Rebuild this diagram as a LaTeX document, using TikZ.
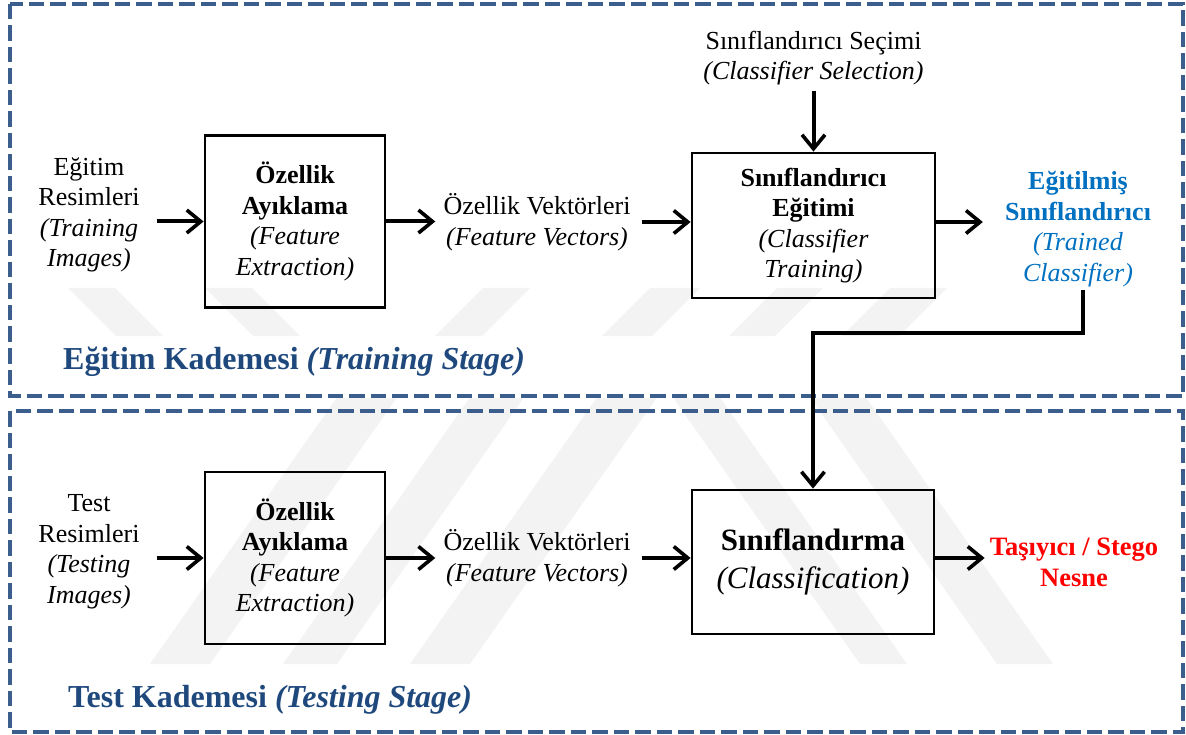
\documentclass[tikz,border=0pt]{standalone}
\usepackage{fontspec}
\setmainfont{Liberation Serif}
\usetikzlibrary{arrows.meta}

\definecolor{frameblue}{RGB}{59,94,140}
\definecolor{stageblue}{RGB}{31,73,125}
\definecolor{trainedblue}{RGB}{0,112,192}
\definecolor{markgray}{RGB}{243,243,243}

\begin{document}
\begin{tikzpicture}[x=1pt,y=-1pt,
  stagebox/.style={draw=frameblue, line width=4.5pt, dash pattern=on 15.5pt off 6pt},
  procbox/.style={draw=black, line width=2.8pt, align=center, inner sep=0pt,
    font=\fontsize{26}{30.5}\selectfont},
  body/.style={align=center, inner sep=0pt, font=\fontsize{26}{30.5}\selectfont},
  stagelabel/.style={anchor=west, inner sep=0pt, text=stageblue,
    font=\fontsize{32}{36}\selectfont\bfseries},
  flow/.style={draw=black, line width=4pt,
    -{Straight Barb[length=14pt,width=23pt,line width=3.6pt]}}
]
\useasboundingbox (0,0) rectangle (1186,735);

% faint emblem in the background
\begin{scope}
  \clip (60,288) rectangle (1000,336);
  \foreach \a/\w in {68/47,205/47}
    \fill[markgray] (\a,288) -- ++(\w,0) -- ++(48,48) -- ++(-\w,0) -- cycle;
  \foreach \a/\w in {483/47,650/50,777/46,890/57}
    \fill[markgray] (\a,288) -- ++(\w,0) -- ++(-48,48) -- ++(-\w,0) -- cycle;
\end{scope}
\begin{scope}
  \clip (100,398) rectangle (1100,664);
  \foreach \a/\w in {150/60,283/54,410/60}
    \fill[markgray] (\a,664) -- ++(\w,0) -- ++(188,-268) -- ++(-\w,0) -- cycle;
  \foreach \a/\w in {860/47,997/56}
    \fill[markgray] (\a,664) -- ++(\w,0) -- ++(-188,-268) -- ++(-\w,0) -- cycle;
\end{scope}

% stage frames
\draw[stagebox] (10,4) rectangle (1183,396);
\draw[stagebox] (10,411) rectangle (1183,732);

% training stage
\node[body] (trainimg) at (89,215) {Eğitim\\Resimleri\\\textit{(Training}\\\textit{Images)}};
\node[procbox, minimum width=180pt, minimum height=172pt] (fe1) at (295,221.5)
  {\textbf{Özellik}\\\textbf{Ayıklama}\\\textit{(Feature}\\\textit{Extraction)}};
\node[body] (fv1) at (537,222) {Özellik Vektörleri\\\textit{(Feature Vectors)}};
\node[procbox, minimum width=243pt, minimum height=145pt] (ct) at (813.5,225.5)
  {\textbf{Sınıflandırıcı}\\\textbf{Eğitimi}\\\textit{(Classifier}\\\textit{Training)}};
\node[body] (sel) at (813.5,58) {Sınıflandırıcı Seçimi\\\textit{(Classifier Selection)}};
\node[body, text=trainedblue] (tc) at (1078,229)
  {\textbf{Eğitilmiş}\\\textbf{Sınıflandırıcı}\\\textit{(Trained}\\\textit{Classifier)}};
\node[stagelabel] (trainlbl) at (63,362) {Eğitim Kademesi \textit{(Training Stage)}};
\coordinate (tcfoot) at (1083,290);

% testing stage
\node[body] (testimg) at (89,552) {Test\\Resimleri\\\textit{(Testing}\\\textit{Images)}};
\node[procbox, minimum width=180pt, minimum height=172pt] (fe2) at (295,558)
  {\textbf{Özellik}\\\textbf{Ayıklama}\\\textit{(Feature}\\\textit{Extraction)}};
\node[body] (fv2) at (537,558) {Özellik Vektörleri\\\textit{(Feature Vectors)}};
\node[procbox, minimum width=242pt, minimum height=144pt,
  font=\fontsize{31}{38}\selectfont] (cls) at (813,562)
  {\textbf{Sınıflandırma}\\\textit{(Classification)}};
\node[body, text=red, font=\fontsize{26.5}{31}\selectfont\bfseries] (out) at (1074,562)
  {Taşıyıcı / Stego\\Nesne};
\node[stagelabel] (testlbl) at (68,700) {Test Kademesi \textit{(Testing Stage)}};

% training flow
\draw[flow, shorten <=17pt] (trainimg.east |- fe1.west) -- (fe1.west);
\draw[flow, shorten >=8pt] (fe1.east) -- (fe1.east -| fv1.west);
\draw[flow, shorten <=11pt] (fv1.east) -- (fv1.east -| ct.west);
\draw[flow, shorten <=6pt] (sel.south) -- (ct.north);
\draw[flow, shorten >=22pt] (fv1.east -| ct.east) -- (fv1.east -| tc.west);
\draw[flow] (tcfoot) -- ++(0,43) -| (cls.north);

% testing flow
\draw[flow, shorten <=17pt] (testimg.east |- fe2.west) -- (fe2.west);
\draw[flow, shorten >=8pt] (fe2.east) -- (fe2.east -| fv2.west);
\draw[flow, shorten <=11pt] (fv2.east) -- (fv2.east -| cls.west);
\draw[flow, shorten >=5pt] (fv2.east -| cls.east) -- (fv2.east -| out.west);
\end{tikzpicture}
\end{document}
